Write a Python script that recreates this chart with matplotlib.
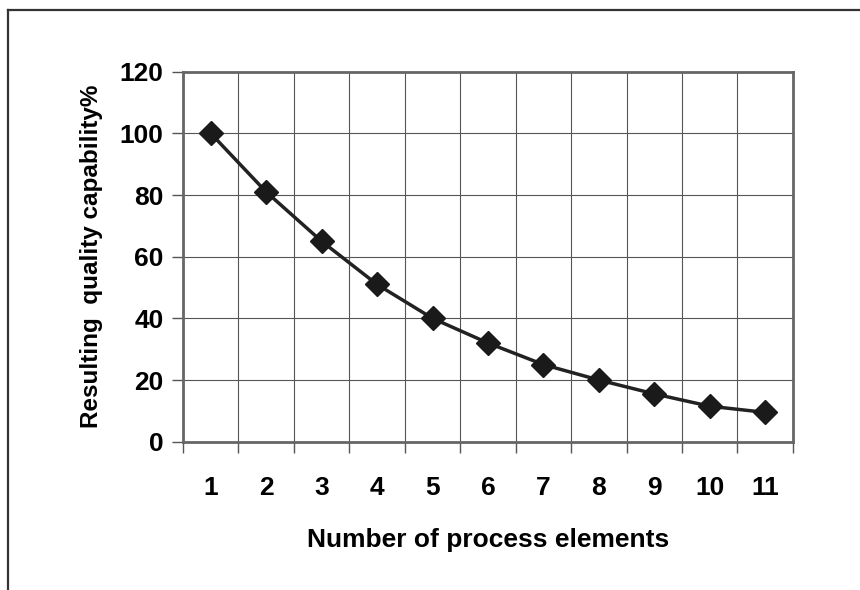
import numpy as np
import matplotlib.pyplot as plt
from matplotlib.lines import Line2D

# process elements and resulting capability (%)
elements = [1, 2, 3, 4, 5, 6, 7, 8, 9, 10, 11]
capability = [100, 81, 65, 51, 40, 32, 25, 20, 15.5, 11.5, 9.5]
y_ticks = [0, 20, 40, 60, 80, 100, 120]

plt.rcParams['font.family'] = ['Liberation Sans Narrow', 'Liberation Sans', 'DejaVu Sans']
plt.rcParams['font.weight'] = 'bold'

fig = plt.figure(figsize=(8.6, 5.9), dpi=100)
ax = fig.add_axes([0.2128, 0.2514, 0.7092, 0.6271])

# frame around the figure (left and top edges as on the scan)
fig.add_artist(Line2D([0.0095, 0.0095], [0.0, 0.983], transform=fig.transFigure, color='#333333', lw=1.6))
fig.add_artist(Line2D([0.0095, 1.0], [0.983, 0.983], transform=fig.transFigure, color='#333333', lw=1.6))

ax.plot(elements, capability, color='#222222', lw=2.5, marker='D', markersize=12,
        markerfacecolor='#1a1a1a', markeredgecolor='#1a1a1a', zorder=3)

ax.set_xlim(0.5, 11.5)
ax.set_ylim(0, 120)
ax.set_yticks(y_ticks)
ax.set_xticks(elements)
ax.set_xticks(np.arange(0.5, 12, 1), minor=True)
ax.tick_params(axis='x', which='major', length=0, pad=25, labelsize=19)
ax.tick_params(axis='x', which='minor', length=8, width=1, color='#555555', direction='out')
ax.tick_params(axis='y', length=8, width=1, color='#555555', direction='out', pad=6, labelsize=19)

ax.grid(True, which='minor', axis='x', color='#555555', lw=0.8)
ax.grid(True, which='major', axis='y', color='#555555', lw=0.8)
ax.set_axisbelow(True)

for s in ax.spines.values():
    s.set_color('#666666')
    s.set_linewidth(2)

ax.set_xlabel('Number of process elements', fontsize=19, fontweight='bold', labelpad=20)
ax.set_ylabel('Resulting  quality capability%', fontsize=17.5, fontweight='bold', labelpad=12)

plt.savefig('out.png', dpi=100)
